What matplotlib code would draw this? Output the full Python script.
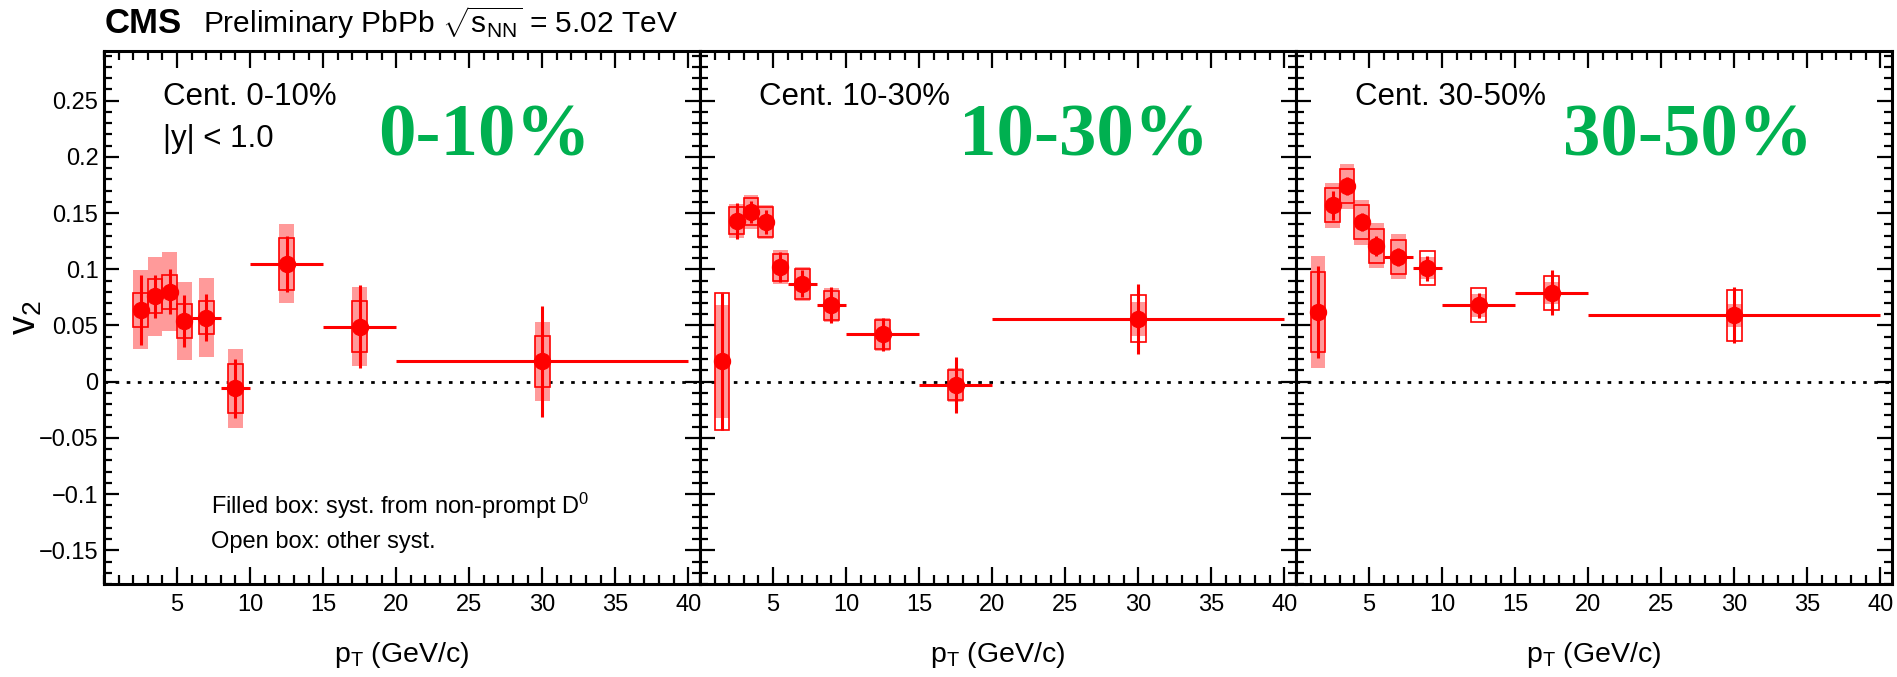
import numpy as np
import matplotlib
matplotlib.use("Agg")
import matplotlib.pyplot as plt
from matplotlib.ticker import MultipleLocator, FixedLocator, FixedFormatter

plt.rcParams['font.family'] = ['Liberation Sans', 'DejaVu Sans']
plt.rcParams['mathtext.fontset'] = 'custom'
plt.rcParams['mathtext.rm'] = 'Liberation Sans'
plt.rcParams['mathtext.it'] = 'Liberation Sans:italic'
plt.rcParams['mathtext.bf'] = 'Liberation Sans:bold'

# ---- data ----
cent_labels = ["Cent. 0-10%", "Cent. 10-30%", "Cent. 30-50%"]
green_labels = ["0-10%", "10-30%", "30-50%"]

# pT bins
lo_0_10 = np.array([2, 3, 4, 5, 6, 8, 10, 15, 20])
hi_0_10 = np.array([3, 4, 5, 6, 8, 10, 15, 20, 40])
pt_0_10 = np.array([2.5, 3.5, 4.5, 5.5, 7, 9, 12.5, 17.5, 30])
lo_wide = np.array([1, 2, 3, 4, 5, 6, 8, 10, 15, 20])
hi_wide = np.array([2, 3, 4, 5, 6, 8, 10, 15, 20, 40])
pt_wide = np.array([1.5, 2.5, 3.5, 4.5, 5.5, 7, 9, 12.5, 17.5, 30])

# 0-10%
v2_0_10 = np.array([0.064, 0.076, 0.080, 0.054, 0.057, -0.006, 0.105, 0.049, 0.018])
stat_0_10 = np.array([0.031, 0.019, 0.020, 0.023, 0.021, 0.026, 0.025, 0.037, 0.049])
syst_0_10 = np.array([0.015, 0.015, 0.015, 0.015, 0.015, 0.022, 0.023, 0.023, 0.023])
npd_0_10 = np.array([0.035, 0.035, 0.035, 0.035, 0.035, 0.035, 0.035, 0.035, 0.035])

# 10-30%
v2_10_30 = np.array([0.018, 0.143, 0.151, 0.142, 0.102, 0.087, 0.068, 0.042, -0.003, 0.056])
stat_10_30 = np.array([0.061, 0.016, 0.010, 0.011, 0.013, 0.012, 0.016, 0.015, 0.025, 0.031])
syst_10_30 = np.array([0.061, 0.012, 0.012, 0.013, 0.012, 0.013, 0.013, 0.013, 0.013, 0.021])
npd_10_30 = np.array([0.050, 0.015, 0.015, 0.015, 0.015, 0.015, 0.015, 0.015, 0.015, 0.015])

# 30-50%
v2_30_50 = np.array([0.062, 0.157, 0.174, 0.142, 0.121, 0.111, 0.101, 0.068, 0.079, 0.059])
stat_30_50 = np.array([0.041, 0.013, 0.008, 0.008, 0.009, 0.008, 0.011, 0.011, 0.020, 0.025])
syst_30_50 = np.array([0.036, 0.015, 0.015, 0.015, 0.015, 0.015, 0.015, 0.015, 0.015, 0.023])
npd_30_50 = np.array([0.050, 0.020, 0.020, 0.020, 0.020, 0.020, 0.010, 0.010, 0.010, 0.010])

xtick_vals = [5, 10, 15, 20, 25, 30, 35, 40]
xtick_labels = ["5", "10", "15", "20", "25", "30", "35", "40"]
ytick_vals = [-0.15, -0.1, -0.05, 0, 0.05, 0.1, 0.15, 0.2, 0.25]
ytick_labels = ["\u22120.15", "\u22120.1", "\u22120.05", "0", "0.05", "0.1", "0.15", "0.2", "0.25"]

panels = [
    (pt_0_10, lo_0_10, hi_0_10, v2_0_10, stat_0_10, syst_0_10, npd_0_10),
    (pt_wide, lo_wide, hi_wide, v2_10_30, stat_10_30, syst_10_30, npd_10_30),
    (pt_wide, lo_wide, hi_wide, v2_30_50, stat_30_50, syst_30_50, npd_30_50),
]

# ---- layout ----
W, H = 1897, 677
fig = plt.figure(figsize=(W / 100, H / 100), dpi=100)
ax_left, ax_w = 104 / W, 596 / W
ax_bot, ax_h = (H - 584) / H, (584 - 50.7) / H

BOX_W = 1.0
red = "#ff0000"
pink = "#ff9a9a"
green = "#00b050"
green_x = [0.460, 0.434, 0.448]

for i, (pt, lo, hi, v, st, sy, npd) in enumerate(panels):
    ax = fig.add_axes([ax_left + i * ax_w, ax_bot, ax_w, ax_h])
    ax.set_xlim(0, 40.8)
    ax.set_ylim(-0.18, 0.2945)

    ax.axhline(0, color="black", lw=2, ls=(0, (1.3, 2.7)), zorder=1)

    # filled box: non-prompt syst, open box: other syst
    ax.bar(pt, 2 * npd, bottom=v - npd, width=BOX_W, color=pink, lw=0, zorder=2)
    ax.bar(pt, 2 * sy, bottom=v - sy, width=BOX_W, fill=False, edgecolor=red, lw=1.2, zorder=3)
    ax.errorbar(pt, v, yerr=st, xerr=[pt - lo, hi - pt], fmt="o", color=red,
                ms=11.5, elinewidth=2.2, capsize=0, zorder=4)

    # ticks, ROOT style
    ax.xaxis.set_major_locator(FixedLocator(xtick_vals))
    ax.xaxis.set_major_formatter(FixedFormatter(xtick_labels))
    ax.xaxis.set_minor_locator(MultipleLocator(1))
    ax.yaxis.set_major_locator(FixedLocator(ytick_vals))
    ax.yaxis.set_minor_locator(MultipleLocator(0.01))
    if i == 0:
        ax.yaxis.set_major_formatter(FixedFormatter(ytick_labels))
    else:
        ax.yaxis.set_major_formatter(FixedFormatter([""] * len(ytick_vals)))
    ax.tick_params(which="both", direction="in", top=True, right=True, width=1.6, labelsize=17)
    ax.tick_params(which="major", axis="x", length=12.5, pad=7)
    ax.tick_params(which="minor", axis="x", length=6.5)
    ax.tick_params(which="major", axis="y", length=11, pad=4)
    ax.tick_params(which="minor", axis="y", length=5.5)
    for s in ax.spines.values():
        s.set_linewidth(2.2)

    ax.text(0.099, 0.898, cent_labels[i], transform=ax.transAxes, fontsize=22.5, va="baseline")
    ax.text(green_x[i], 0.8044, green_labels[i], transform=ax.transAxes, fontsize=54,
            family="Liberation Serif", weight="bold", color=green, va="baseline")
    ax.text(0.5, -0.146, r"p$_{\mathrm{T}}$ (GeV/c)", transform=ax.transAxes,
            fontsize=20.5, ha="center", va="baseline")

    if i == 0:
        ax.text(0.099, 0.8194, "|y| < 1.0", transform=ax.transAxes, fontsize=22.5, va="baseline")
        ax.text(0.1795, 0.1313, r"Filled box: syst. from non-prompt D$^{0}$",
                transform=ax.transAxes, fontsize=17, va="baseline")
        ax.text(0.1795, 0.0675, "Open box: other syst.",
                transform=ax.transAxes, fontsize=17, va="baseline")

fig.text(26 / W, 1 - 318 / H, r"v$_{2}$", rotation=90, fontsize=27, ha="center", va="center")
fig.text(105 / W, 1 - 33 / H, "CMS", fontsize=25, weight="bold", va="baseline")
fig.text(203 / W, 1 - 33 / H, r"Preliminary PbPb $\sqrt{\mathrm{s}_{\mathrm{NN}}}$ = 5.02 TeV",
         fontsize=21.5, va="baseline")

fig.savefig("out.png", dpi=100)
